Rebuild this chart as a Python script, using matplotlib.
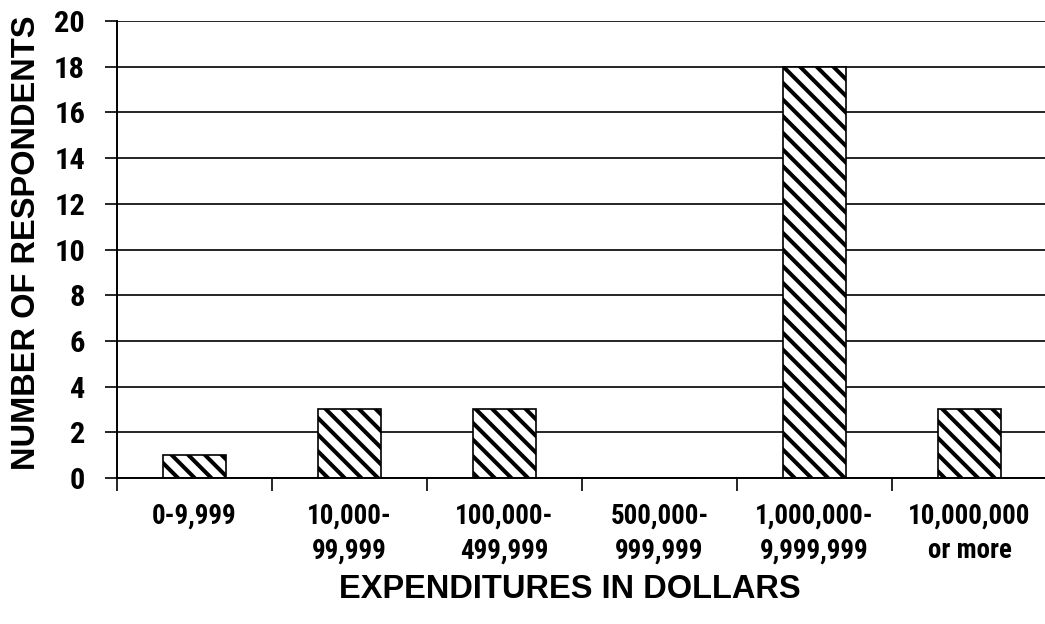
import matplotlib
matplotlib.use("Agg")
import matplotlib.pyplot as plt
from matplotlib import font_manager
import numpy as np

# Survey results: number of respondents per expenditure bracket
categories = ["0-9,999", "10,000-\n99,999", "100,000-\n499,999",
              "500,000-\n999,999", "1,000,000-\n9,999,999", "10,000,000\nor more"]
respondents = [1, 3, 3, 0, 18, 3]
y_ticks = list(range(0, 21, 2))

# Pick a narrow sans-serif for the tick labels, falling back to a regular one
installed = {f.name for f in font_manager.fontManager.ttflist}
narrow_choices = [("Liberation Sans Narrow", 1.0), ("Arial Narrow", 1.0),
                  ("Roboto Condensed", 0.95), ("Archivo Narrow", 0.95),
                  ("IBM Plex Sans Condensed", 0.93), ("Liberation Sans", 0.82)]
cond_name, k = next((n, s) for n, s in narrow_choices if n in installed or n == "Liberation Sans")
cond = [cond_name, "DejaVu Sans"]

plt.rcParams["font.family"] = ["Liberation Sans", "DejaVu Sans"]
plt.rcParams["font.weight"] = "bold"
plt.rcParams["hatch.linewidth"] = 2.9
plt.rcParams["hatch.color"] = "black"

fig = plt.figure(figsize=(10.45, 6.24), dpi=100)
W, H = 1045, 624
ax = fig.add_axes([117 / W, (H - 478) / H, (1047 - 117) / W, (478 - 21) / H])

x = np.arange(len(categories))
ax.bar(x, respondents, width=0.41, color="white", edgecolor="black",
       linewidth=1.2, hatch="\\\\", zorder=3)

ax.set_xlim(-0.5, len(categories) - 0.5)
ax.set_ylim(0, 20)
ax.set_yticks(y_ticks)
ax.set_yticklabels([str(v) for v in y_ticks], fontsize=23 * k,
                   fontweight="bold", family=cond)

# Category boundaries get tick marks, category centres get the labels
ax.set_xticks(np.arange(-0.5, len(categories), 1.0))
ax.set_xticklabels([])
ax.set_xticks(x, minor=True)
ax.set_xticklabels(categories, minor=True, fontsize=20.5 * k, fontweight="bold",
                   family=cond, linespacing=1.35)
ax.tick_params(axis="x", which="minor", length=0, pad=18)
ax.tick_params(axis="x", which="major", length=9, width=1.2, direction="out")
ax.tick_params(axis="y", length=9, width=1.2, direction="out", pad=14)

ax.grid(axis="y", color="black", linewidth=1.2, zorder=0)
ax.set_axisbelow(True)
for side in ("top", "right"):
    ax.spines[side].set_visible(False)
for side in ("left", "bottom"):
    ax.spines[side].set_linewidth(1.4)
    ax.spines[side].set_zorder(4)

fig.text(27 / W, 1 - 243 / H, "NUMBER OF RESPONDENTS", rotation=90,
         ha="center", va="center", fontsize=23.5, fontweight="bold")
fig.text(570 / W, 1 - 589 / H, "EXPENDITURES IN DOLLARS",
         ha="center", va="center", fontsize=23.5, fontweight="bold")

fig.savefig("out.png", dpi=100, facecolor="white")
